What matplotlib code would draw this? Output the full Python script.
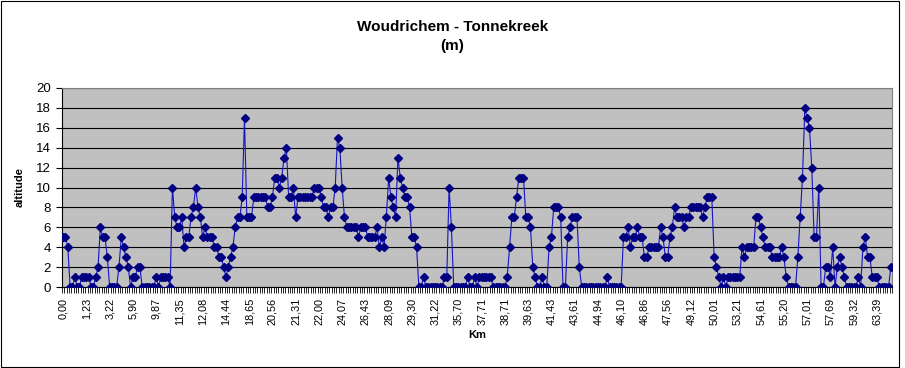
import numpy as np
import matplotlib
matplotlib.use("Agg")
import matplotlib.pyplot as plt
from matplotlib.patches import Rectangle

plt.rcParams["font.family"] = ["Liberation Sans", "DejaVu Sans"]

altitude = [
    5, 5, 4, 0, 0, 1, 0, 0, 1, 1,
    1, 1, 0, 0, 1, 2, 6, 5, 5, 3,
    0, 0, 0, 0, 2, 5, 4, 3, 2, 0,
    1, 1, 2, 2, 0, 0, 0, 0, 0, 0,
    1, 0, 1, 1, 1, 1, 0, 10, 7, 6,
    6, 7, 4, 5, 5, 7, 8, 10, 8, 7,
    5, 6, 5, 5, 5, 4, 4, 3, 3, 2,
    1, 2, 3, 4, 6, 7, 7, 9, 17, 7,
    7, 7, 9, 9, 9, 9, 9, 9, 8, 8,
    9, 11, 11, 10, 11, 13, 14, 9, 9, 10,
    7, 9, 9, 9, 9, 9, 9, 9, 10, 10,
    10, 9, 8, 8, 7, 8, 8, 10, 15, 14,
    10, 7, 6, 6, 6, 6, 6, 5, 6, 6,
    6, 5, 5, 5, 5, 6, 4, 5, 4, 7,
    11, 9, 8, 7, 13, 11, 10, 9, 9, 8,
    5, 5, 4, 0, 0, 1, 0, 0, 0, 0,
    0, 0, 0, 0, 1, 1, 10, 6, 0, 0,
    0, 0, 0, 0, 1, 0, 0, 1, 0, 1,
    1, 1, 1, 1, 1, 0, 0, 0, 0, 0,
    0, 1, 4, 7, 7, 9, 11, 11, 11, 7,
    7, 6, 2, 1, 0, 0, 1, 0, 0, 4,
    5, 8, 8, 8, 7, 0, 0, 5, 6, 7,
    7, 7, 2, 0, 0, 0, 0, 0, 0, 0,
    0, 0, 0, 0, 1, 0, 0, 0, 0, 0,
    0, 5, 5, 6, 4, 5, 5, 6, 5, 5,
    3, 3, 4, 4, 4, 4, 4, 6, 5, 3,
    3, 5, 6, 8, 7, 7, 7, 6, 7, 7,
    8, 8, 8, 8, 8, 7, 8, 9, 9, 9,
    3, 2, 1, 0, 1, 0, 1, 1, 1, 1,
    1, 1, 4, 3, 4, 4, 4, 4, 7, 7,
    6, 5, 4, 4, 4, 3, 3, 3, 3, 4,
    3, 1, 0, 0, 0, 0, 3, 7, 11, 18,
    17, 16, 12, 5, 5, 10, 0, 0, 2, 2,
    1, 4, 0, 2, 3, 2, 1, 0, 0, 0,
    0, 0, 1, 0, 4, 5, 3, 3, 1, 1,
    1, 0, 0, 0, 0, 0, 2,
]

# km labels shown on the category axis (every 10th point)
km_labels = [
    "0,00", "1,23", "3,22", "5,90", "9,87", "11,35", "12,08", "14,44",
    "18,65", "20,56", "21,31", "22,00", "24,07", "26,43", "28,09", "29,30",
    "31,22", "35,70", "37,71", "38,71", "39,63", "41,43", "43,61", "44,94",
    "46,10", "46,86", "47,56", "49,12", "50,01", "53,21", "54,61", "55,20",
    "57,01", "57,69", "59,32", "63,39",
]
label_step = 10

n = len(altitude)
idx = np.arange(n)

fig = plt.figure(figsize=(9.05, 3.68), dpi=100)
fig.patches.append(Rectangle((1 / 905, 1 / 368), 898 / 905, 366 / 368,
                             transform=fig.transFigure, fill=False,
                             edgecolor="black", lw=0.8))

ax = fig.add_axes([62 / 905, 1 - 287 / 368, 830 / 905, 199 / 368])
ax.set_facecolor("#C0C0C0")

ax.plot(idx, altitude, color="#1414C8", lw=0.8, marker="D", ms=3.6,
        mfc="#000080", mec="#000080", zorder=3)

ax.set_xlim(-0.5, n - 0.5)
ax.set_ylim(0, 20)
ax.set_yticks(np.arange(0, 21, 2))
ax.yaxis.grid(True, color="black", lw=0.8)
ax.set_axisbelow(True)

ax.set_xticks(idx[::label_step])
ax.set_xticklabels(km_labels, rotation=90, fontsize=7.8)
ax.set_xticks(np.arange(-0.5, n, 1), minor=True)
ax.tick_params(axis="x", which="major", length=0, pad=8)
ax.tick_params(axis="x", which="minor", length=4, width=0.6, color="black")
ax.tick_params(axis="y", length=4, width=0.8, labelsize=9.5, pad=4)

for s in ["top", "right"]:
    ax.spines[s].set_color("#808080")
    ax.spines[s].set_linewidth(0.8)
for s in ["left", "bottom"]:
    ax.spines[s].set_color("black")
    ax.spines[s].set_linewidth(0.8)

ax.set_ylabel("altitude", fontsize=8, fontweight="bold", labelpad=8)
ax.set_xlabel("Km", fontsize=8, fontweight="bold", labelpad=3)

fig.text(0.5, 1 - 27 / 368, "Woudrichem - Tonnekreek", ha="center", va="center",
         fontsize=11, fontweight="bold")
fig.text(0.5, 1 - 46 / 368, "(m)", ha="center", va="center",
         fontsize=11, fontweight="bold")

fig.savefig("out.png", dpi=100)
